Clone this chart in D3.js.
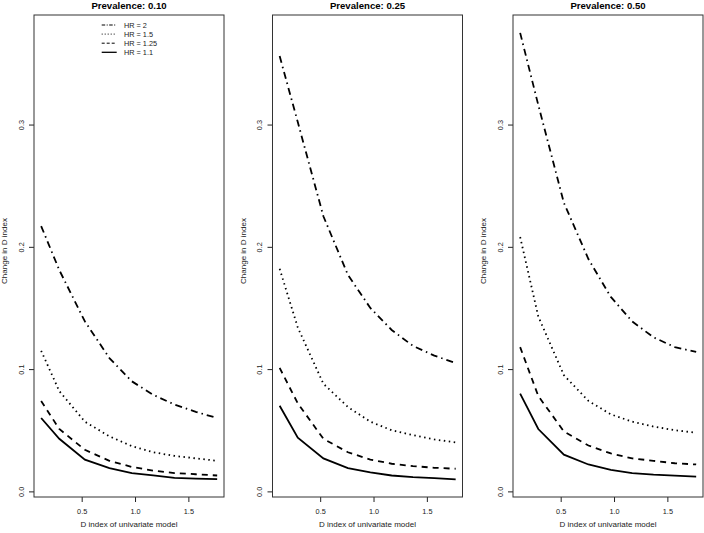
<!DOCTYPE html>
<html>
<head>
<meta charset="utf-8">
<script src="https://cdnjs.cloudflare.com/ajax/libs/d3/7.8.5/d3.min.js"></script>
<style>
  body { margin: 0; background: #fff; }
  svg { display: block; font-family: "Liberation Sans", Arial, Helvetica, sans-serif; }
</style>
</head>
<body>
<svg id="chart" width="704" height="533"></svg>
<script>
// D index of the univariate model (x values shared by every curve)
const dIndex = [0.12, 0.29, 0.53, 0.76, 0.97, 1.17, 1.37, 1.57, 1.77];

const prevalences = ["0.10", "0.25", "0.50"];
const hrLabels = ["HR = 2", "HR = 1.5", "HR = 1.25", "HR = 1.1"];
const yTicks = [0.0, 0.1, 0.2, 0.3];
const xTicks = [0.5, 1.0, 1.5];

// change in D index, prevalence 0.10
const p10hr2   = [0.217, 0.181, 0.139, 0.109, 0.090, 0.079, 0.071, 0.065, 0.060];
const p10hr15  = [0.115, 0.082, 0.057, 0.045, 0.037, 0.032, 0.029, 0.027, 0.025];
const p10hr125 = [0.074, 0.051, 0.034, 0.025, 0.020, 0.017, 0.015, 0.014, 0.013];
const p10hr11  = [0.060, 0.043, 0.026, 0.019, 0.015, 0.013, 0.011, 0.0105, 0.010];

// prevalence 0.25
const p25hr2   = [0.356, 0.302, 0.225, 0.177, 0.150, 0.132, 0.119, 0.111, 0.105];
const p25hr15  = [0.182, 0.134, 0.088, 0.069, 0.057, 0.050, 0.046, 0.0425, 0.040];
const p25hr125 = [0.101, 0.072, 0.043, 0.032, 0.026, 0.0226, 0.0207, 0.0193, 0.0185];
const p25hr11  = [0.070, 0.044, 0.027, 0.019, 0.0155, 0.013, 0.0117, 0.0109, 0.0098];

// prevalence 0.50
const p50hr2   = [0.375, 0.316, 0.236, 0.190, 0.159, 0.139, 0.126, 0.118, 0.114];
const p50hr15  = [0.208, 0.143, 0.095, 0.074, 0.063, 0.057, 0.053, 0.050, 0.048];
const p50hr125 = [0.118, 0.078, 0.049, 0.0375, 0.031, 0.027, 0.025, 0.023, 0.022];
const p50hr11  = [0.080, 0.051, 0.030, 0.022, 0.0176, 0.015, 0.0137, 0.0128, 0.0121];

const panelSeries = [
  [p10hr2, p10hr15, p10hr125, p10hr11],
  [p25hr2, p25hr15, p25hr125, p25hr11],
  [p50hr2, p50hr15, p50hr125, p50hr11]
];

// line styles for HR = 2, 1.5, 1.25, 1.1
const dashPlot   = ["7,4,1.5,4", "1.5,3.5", "6,5", null];
const dashLegend = ["3.5,1.5,1,1.5", "1,2", "3,2", null];

const plotTop = 15, plotBottom = 497, boxW = 190;
const panelLeft = [34, 272.5, 513];

const svg = d3.select("#chart");

const y = d3.scaleLinear().domain([-0.0046, 0.3896]).range([plotBottom, plotTop]);

panelSeries.forEach((series, p) => {
  const left = panelLeft[p];
  const x = d3.scaleLinear().domain([0.053, 1.834]).range([left, left + boxW]);
  const g = svg.append("g");

  // y axis
  const ya = g.append("g")
    .attr("transform", `translate(${left},0)`)
    .call(d3.axisLeft(y).tickValues(yTicks).tickFormat(d3.format(".1f")).tickSize(5));
  ya.select(".domain").remove();
  ya.selectAll("line").attr("stroke", "#222");
  ya.selectAll("text")
    .attr("transform", "rotate(-90)")
    .attr("x", 0).attr("y", -10.5).attr("dy", 0)
    .attr("text-anchor", "middle")
    .attr("font-size", 7.3).attr("font-family", null).attr("fill", "#222");

  // x axis
  const xa = g.append("g")
    .attr("transform", `translate(0,${plotBottom})`)
    .call(d3.axisBottom(x).tickValues(xTicks).tickFormat(d3.format(".1f")).tickSize(5));
  xa.select(".domain").remove();
  xa.selectAll("line").attr("stroke", "#222");
  xa.selectAll("text")
    .attr("y", 16.5).attr("dy", 0)
    .attr("font-size", 7.3).attr("font-family", null).attr("fill", "#222");

  // box
  g.append("rect")
    .attr("x", left).attr("y", plotTop)
    .attr("width", boxW).attr("height", plotBottom - plotTop)
    .attr("fill", "none").attr("stroke", "#333").attr("stroke-width", 1);

  // curves
  const line = d3.line().x((d, i) => x(dIndex[i])).y(d => y(d));
  series.forEach((vals, s) => {
    g.append("path")
      .datum(vals)
      .attr("d", line)
      .attr("fill", "none")
      .attr("stroke", "#000")
      .attr("stroke-width", 1.8)
      .attr("stroke-dasharray", dashPlot[s]);
  });

  // titles
  g.append("text")
    .attr("x", left + boxW / 2).attr("y", 9)
    .attr("text-anchor", "middle")
    .attr("font-size", 9.6).attr("font-weight", "bold")
    .text("Prevalence: " + prevalences[p]);

  g.append("text")
    .attr("x", left + boxW / 2).attr("y", 527)
    .attr("text-anchor", "middle")
    .attr("font-size", 8).attr("fill", "#222")
    .text("D index of univariate model");

  g.append("text")
    .attr("transform", `translate(${left - 27},${(plotTop + plotBottom) / 2 - 5}) rotate(-90)`)
    .attr("text-anchor", "middle")
    .attr("font-size", 8).attr("fill", "#222")
    .text("Change in D index");
});

// legend (first panel only)
const legend = svg.append("g");
hrLabels.forEach((lab, i) => {
  const ly = 25 + i * 9.1;
  legend.append("line")
    .attr("x1", 101.7).attr("x2", 116.7)
    .attr("y1", ly).attr("y2", ly)
    .attr("stroke", "#000")
    .attr("stroke-width", i === 3 ? 1.3 : 1)
    .attr("stroke-dasharray", dashLegend[i]);
  legend.append("text")
    .attr("x", 124).attr("y", ly + 2.6)
    .attr("font-size", 7.3).attr("fill", "#222")
    .text(lab);
});
</script>
</body>
</html>
